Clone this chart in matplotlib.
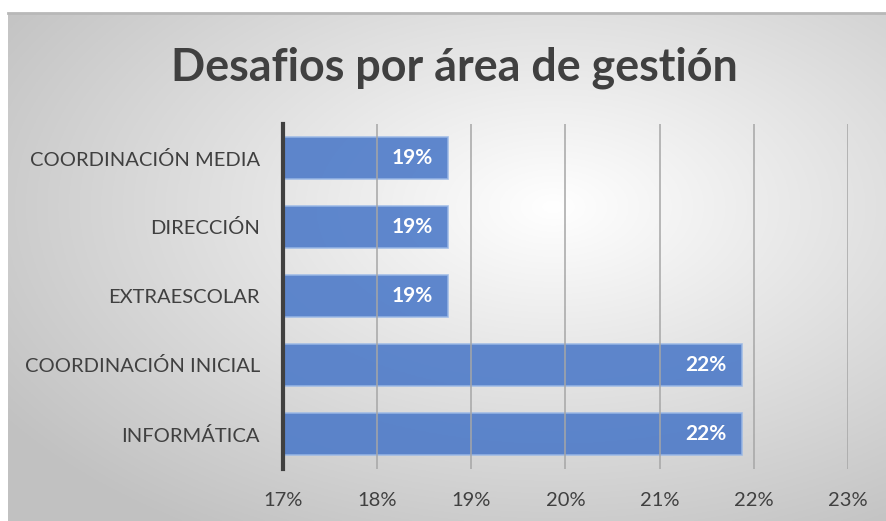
import numpy as np
import matplotlib.pyplot as plt

categories = ["INFORMÁTICA", "COORDINACIÓN INICIAL", "EXTRAESCOLAR", "DIRECCIÓN", "COORDINACIÓN MEDIA"]
values = [21.875, 21.875, 18.75, 18.75, 18.75]
value_labels = ["22%", "22%", "19%", "19%", "19%"]
x_ticks = [17, 18, 19, 20, 21, 22, 23]
x_tick_labels = ["17%", "18%", "19%", "20%", "21%", "22%", "23%"]

plt.rcParams["font.family"] = ["Lato", "DejaVu Sans"]
TEXT = "#404040"

W, H = 886, 521
fig = plt.figure(figsize=(W / 100, H / 100), dpi=100)

# background panel with radial gradient
bg = fig.add_axes([8 / W, 0, 1 - 8 / W, (H - 13) / H])
yy, xx = np.mgrid[0:300, 0:500]
cx, cy = 0.62 * 500, 0.38 * 300
r = np.sqrt(((xx - cx) / 500) ** 2 + ((yy - cy) / 300) ** 2)
r = np.clip(r / 0.75, 0, 1)
shade = 1.0 - 0.24 * r
img = np.dstack([shade, shade, shade])
bg.imshow(img, aspect="auto", extent=[0, 1, 0, 1], origin="upper")
bg.set_axis_off()
bg.plot([0, 1], [1, 1], color="#b8b8b8", lw=2, transform=bg.transAxes, clip_on=False)

ax = fig.add_axes([283 / W, 1 - 468.5 / H, 565 / W, 345 / H])
ax.patch.set_alpha(0)

y = np.arange(len(categories))
bars = ax.barh(y, [v - 17 for v in values], left=17, height=0.6,
               color="#4a78c8", alpha=0.88, edgecolor="#9ab8e6", linewidth=1.2, zorder=2)

for b, lab in zip(bars, value_labels):
    ax.text(b.get_x() + b.get_width() - 0.16, b.get_y() + b.get_height() / 2, lab,
            ha="right", va="center", color="white", fontsize=15, fontweight="bold", zorder=4)

ax.set_xlim(17, 23)
ax.set_ylim(-0.5, len(categories) - 0.5)
ax.set_xticks(x_ticks)
ax.set_xticklabels(x_tick_labels, fontsize=14.5, color=TEXT)
ax.set_yticks(y)
ax.set_yticklabels(categories, fontsize=14.5, color=TEXT)
ax.tick_params(axis="both", length=0)
ax.tick_params(axis="x", pad=17)
ax.tick_params(axis="y", pad=16.5)

for t in x_ticks[1:]:
    ax.axvline(t, color="#a6a6a6", lw=1.1, zorder=3)

for s in ["top", "right", "bottom"]:
    ax.spines[s].set_visible(False)
ax.spines["left"].set_color("#404040")
ax.spines["left"].set_linewidth(3)
ax.spines["left"].set_zorder(5)

fig.text(454 / W, 1 - 68 / H, "Desafios por área de gestión", ha="center", va="center",
         fontsize=32.3, fontweight="bold", color=TEXT)

fig.savefig("out.png", dpi=100)
